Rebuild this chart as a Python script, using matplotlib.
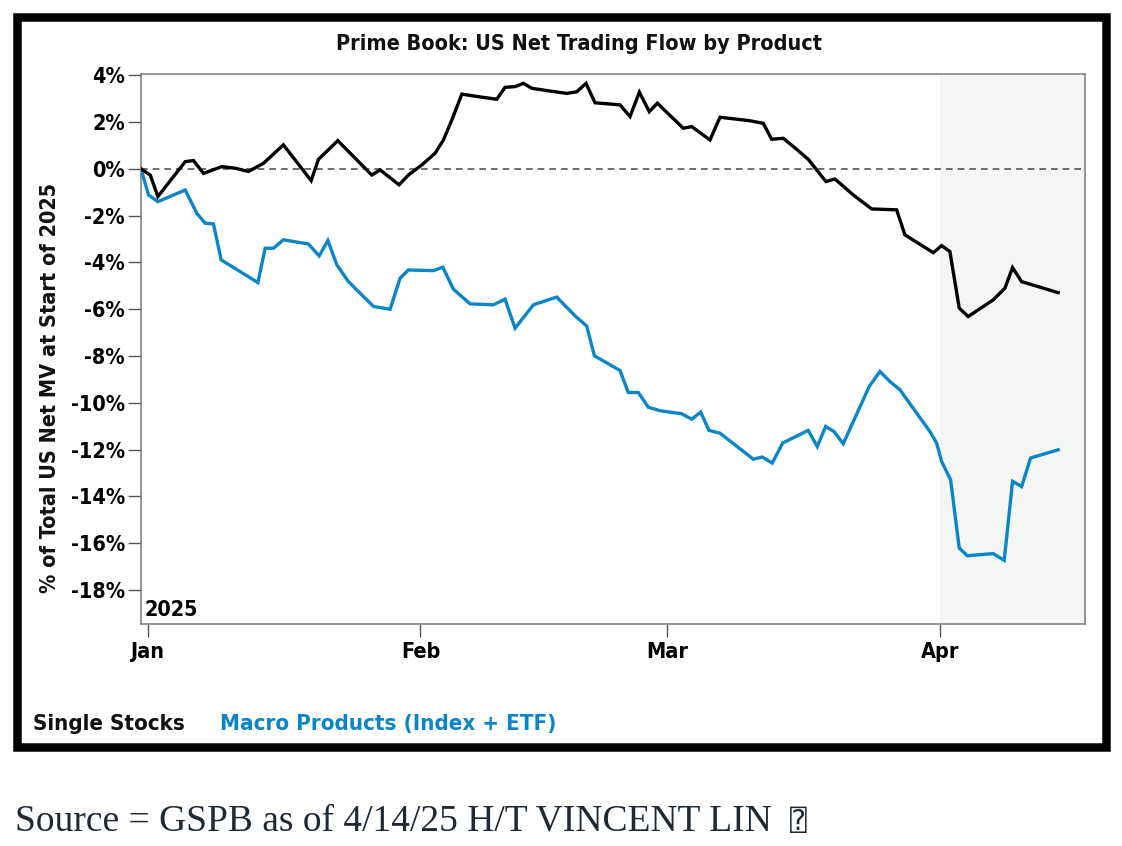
import numpy as np
import pandas as pd
import matplotlib
matplotlib.use("Agg")
import matplotlib.pyplot as plt
from matplotlib import font_manager as fm
from matplotlib.patches import Rectangle
from matplotlib.ticker import FixedLocator, FuncFormatter

# ---------------- data (day offsets from 2025-01-01, % values) ----------------
ss_day = [-0.75, 0.30, 1.17, 4.27, 5.21, 6.35, 8.44, 9.95, 11.46, 13.16, 15.43, 18.58,
          19.41, 21.61, 25.47, 26.42, 28.57, 29.63, 31.15, 32.66, 33.61, 34.56, 35.70,
          37.58, 39.67, 40.61, 41.75, 42.69, 43.65, 45.72, 47.62, 48.76, 49.81, 50.83,
          53.67, 54.81, 55.87, 57.00, 57.91, 60.86, 61.82, 63.90, 65.03, 67.11, 68.44,
          69.95, 70.90, 72.22, 73.74, 75.06, 77.07, 78.09, 80.17, 82.26, 85.10, 86.04,
          89.26, 90.21, 91.15, 92.21, 93.23, 96.07, 97.40, 98.27, 99.30, 103.45]
ss_val = [0.00, -0.26, -1.18, 0.31, 0.36, -0.19, 0.10, 0.03, -0.11, 0.24, 1.03, -0.50,
          0.41, 1.21, -0.26, -0.04, -0.68, -0.26, 0.17, 0.67, 1.24, 2.09, 3.20,
          3.09, 2.98, 3.49, 3.52, 3.66, 3.45, 3.33, 3.23, 3.30, 3.66, 2.83,
          2.74, 2.24, 3.28, 2.45, 2.81, 1.74, 1.81, 1.24, 2.21, 2.12, 2.06,
          1.95, 1.27, 1.31, 0.84, 0.41, -0.54, -0.43, -1.11, -1.71, -1.75, -2.82,
          -3.58, -3.28, -3.53, -5.95, -6.31, -5.60, -5.10, -4.22, -4.82, -5.29]

mp_day = [-0.75, 0.10, 1.17, 4.27, 5.60, 6.54, 7.48, 8.36, 12.53, 13.36, 14.30, 15.43,
          18.27, 19.49, 20.48, 21.50, 22.82, 25.66, 27.55, 28.69, 29.63, 32.47, 33.54,
          34.74, 36.64, 39.28, 40.61, 41.75, 43.83, 46.48, 48.56, 49.89, 50.76, 53.67,
          54.61, 55.75, 56.89, 58.22, 60.68, 61.82, 62.84, 63.78, 65.03, 68.81, 69.83,
          70.97, 72.15, 75.06, 76.08, 77.04, 77.98, 79.03, 81.99, 83.20, 84.34, 85.47,
          88.88, 89.64, 90.21, 91.23, 92.21, 93.12, 96.07, 97.32, 98.27, 99.30, 100.32,
          103.45]
mp_val = [0.00, -1.11, -1.40, -0.90, -1.90, -2.32, -2.35, -3.89, -4.86, -3.39, -3.39, -3.03,
          -3.21, -3.72, -3.06, -4.10, -4.82, -5.88, -6.00, -4.67, -4.32, -4.35, -4.20,
          -5.14, -5.77, -5.81, -5.57, -6.81, -5.81, -5.48, -6.28, -6.72, -7.99, -8.62,
          -9.56, -9.56, -10.19, -10.34, -10.47, -10.70, -10.40, -11.18, -11.30, -12.41, -12.32,
          -12.58, -11.72, -11.18, -11.87, -11.01, -11.23, -11.75, -9.30, -8.66, -9.09, -9.44,
          -11.23, -11.72, -12.51, -13.29, -16.21, -16.54, -16.45, -16.74, -13.36, -13.58, -12.36,
          -12.01]

month_ticks = ["2025-01-01", "2025-02-01", "2025-03-01", "2025-04-01"]
month_labels = ["Jan", "Feb", "Mar", "Apr"]
y_ticks = [4, 2, 0, -2, -4, -6, -8, -10, -12, -14, -16, -18]
shade_start = "2025-04-01"

title = "Prime Book: US Net Trading Flow by Product"
ylabel = "% of Total US Net MV at Start of 2025"
series_names = ["Single Stocks", "Macro Products (Index + ETF)"]
source_text = "Source = GSPB as of 4/14/25 H/T VINCENT LIN"

# ---------------- style ----------------
BLUE = "#0a86c8"
W, H = 1122, 846

cond = any(("DejaVuSansCondensed-Bold" in f.fname) for f in fm.fontManager.ttflist)
FS = 15.5 if cond else 14.2
plt.rcParams["font.family"] = ["DejaVu Sans"]
plt.rcParams["font.weight"] = "bold"
if cond:
    plt.rcParams["font.stretch"] = "condensed"

base = pd.Timestamp("2025-01-01")
to_num = lambda d: matplotlib.dates.date2num(base + pd.to_timedelta(d, unit="D"))

fig = plt.figure(figsize=(W / 100, H / 100), dpi=100)
fig.patch.set_facecolor("white")

# outer black frame
t = 8.5
fig.add_artist(Rectangle(((13 + t / 2) / W, 1 - (751 - t / 2) / H),
                         (1110 - 13 - t) / W, (751 - 13 - t) / H,
                         transform=fig.transFigure, fill=False,
                         edgecolor="black", linewidth=t * 0.72, zorder=0))

ax = fig.add_axes([141 / W, 1 - 624 / H, (1085 - 141) / W, (624 - 74) / H])

x_ss = [to_num(d) for d in ss_day]
x_mp = [to_num(d) for d in mp_day]
x_left, x_right = to_num(-0.75), to_num(106.5)

ax.axvspan(matplotlib.dates.date2num(pd.Timestamp(shade_start)), x_right,
           color="#f3f6f3", zorder=0, lw=0)
ax.axhline(0, color="#555555", lw=1.2, ls=(0, (4, 3)), zorder=1)
ax.plot(x_mp, mp_val, color=BLUE, lw=2.4, zorder=3, solid_joinstyle="miter")
ax.plot(x_ss, ss_val, color="black", lw=2.4, zorder=4, solid_joinstyle="miter")

ax.set_xlim(x_left, x_right)
ax.set_ylim(-19.46, 4.06)

ax.xaxis.set_major_locator(FixedLocator([matplotlib.dates.date2num(pd.Timestamp(m)) for m in month_ticks]))
ax.set_xticklabels(month_labels)
ax.yaxis.set_major_locator(FixedLocator(y_ticks))
ax.yaxis.set_major_formatter(FuncFormatter(lambda v, p: f"{int(round(v))}%"))

for s in ax.spines.values():
    s.set_color("#7a7a7a")
    s.set_linewidth(1.1)
ax.tick_params(axis="both", colors="#555555", labelcolor="black", labelsize=FS,
               length=9.5, width=1.0, direction="out")
ax.tick_params(axis="y", pad=2)
ax.tick_params(axis="x", pad=3.5)

ax.text(4 / 944, 8 / 550, "2025", transform=ax.transAxes, ha="left", va="baseline",
        fontsize=FS, color="black")

fig.text(579 / W, 1 - 50 / H, title, ha="center", va="baseline", fontsize=FS, color="#111111")
fig.text(50 / W, 1 - 388 / H, ylabel, rotation=90, ha="center", va="center",
         fontsize=FS, color="#111111")

fig.text(33 / W, 1 - 730 / H, series_names[0], ha="left", va="baseline", fontsize=FS + 0.5,
         color="#111111")
fig.text(220 / W, 1 - 730 / H, series_names[1], ha="left", va="baseline", fontsize=FS + 0.5,
         color=BLUE)

fig.text(15 / W, 1 - 830 / H, source_text, ha="left", va="baseline", fontsize=27,
         fontweight="normal", fontstretch="normal", color="#1f2933",
         family=["Liberation Serif", "DejaVu Serif"])
fig.text(790 / W, 1 - 830 / H, "\u2370", ha="left", va="baseline", fontsize=20,
         fontweight="normal", fontstretch="normal", color="#1f2933",
         family=["DejaVu Sans", "DejaVu Sans Mono"])

fig.savefig("out.png", dpi=100, facecolor="white")
